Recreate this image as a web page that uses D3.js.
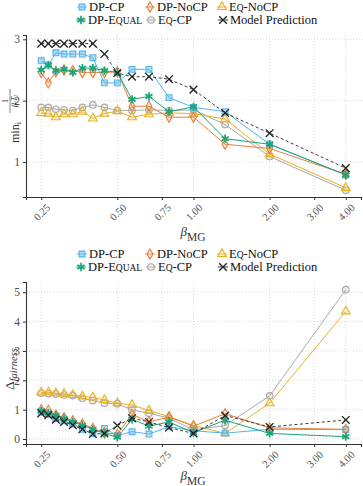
<!DOCTYPE html>
<html><head><meta charset="utf-8">
<script src="https://cdn.jsdelivr.net/npm/d3@7"></script>
<style>
body{margin:0;background:#fff;}
</style></head>
<body><svg id="c" width="363" height="486"></svg>
<script>
// ---- data ----
const betas = [0.25, 0.2667, 0.2857, 0.3077, 0.3333, 0.3636, 0.4, 0.4444, 0.5, 0.5714, 0.6667, 0.8, 1, 1.3333, 2, 4];
const xTicks = [0.25, 0.5, 0.75, 1, 2, 3, 4];
const xTickLabels = ["0.25", "0.50", "0.75", "1.00", "2.00", "3.00", "4.00"];
const seriesNames = ["DP-CP", "DP-NoCP", "Eq-NoCP", "DP-Equal", "Eq-CP", "Model Prediction"];

const topDPCP     = [2.65,2.58,2.78,2.76,2.76,2.76,2.70,2.29,2.29,2.51,2.51,2.05,1.89,1.82,1.29,0.79];
const topDPNoCP   = [2.46,2.29,2.47,2.50,2.49,2.46,2.46,2.46,2.47,1.91,1.91,1.73,1.73,1.29,1.22,0.80];
const topEqNoCP   = [1.80,1.79,1.73,1.78,1.78,1.82,1.71,1.79,1.83,1.73,1.78,1.80,1.79,1.70,1.13,0.58];
const topDPEqual  = [2.50,2.58,2.49,2.51,2.46,2.53,2.53,2.49,2.46,2.02,2.07,1.82,1.90,1.38,1.29,0.79];
const topEqCP     = [1.89,1.89,1.86,1.85,1.84,1.89,1.93,1.89,1.84,1.84,1.85,1.84,1.85,1.61,1.09,0.54];
const topModel    = [2.93,2.93,2.93,2.93,2.93,2.93,2.93,2.76,2.45,2.39,2.39,2.35,2.18,1.80,1.47,0.90];
const topYTicks = [1, 2, 3];

const botDPCP     = [0.92,0.84,0.70,0.62,0.51,0.33,0.19,0.36,0.12,0.25,0.17,0.42,0.28,0.20,0.33,0.32];
const botDPNoCP   = [1.00,0.98,0.81,0.73,0.62,0.51,0.36,0.21,0.16,0.84,0.58,0.75,0.44,0.86,0.38,0.33];
const botEqNoCP   = [1.59,1.59,1.56,1.54,1.50,1.45,1.42,1.33,1.22,1.16,0.97,0.76,0.46,0.19,1.22,4.35];
const botDPEqual  = [0.96,0.89,0.81,0.70,0.58,0.47,0.33,0.19,0.06,0.67,0.44,0.58,0.22,0.64,0.19,0.08];
const botEqCP     = [1.56,1.54,1.53,1.50,1.48,1.39,1.31,1.22,1.20,0.99,0.88,0.71,0.31,0.46,1.47,5.09];
const botModel    = [0.87,0.81,0.66,0.58,0.47,0.33,0.17,0.19,0.46,0.71,0.58,0.39,0.19,0.80,0.41,0.65];
const botYTicks = [0, 1, 2, 3, 4, 5];

// ---- styles ----
const FONT = "'Liberation Serif','DejaVu Serif',serif";
const styles = {
  "DP-CP":            {color:"#56B4E9", sym:"square"},
  "DP-NoCP":          {color:"#E5803A", sym:"diamond"},
  "Eq-NoCP":          {color:"#E9B124", sym:"triangle"},
  "DP-Equal":         {color:"#18A57A", sym:"asterisk"},
  "Eq-CP":            {color:"#A9A9A9", sym:"circle"},
  "Model Prediction": {color:"#222222", sym:"times", dashed:true}
};
const drawOrder = ["Eq-CP","Eq-NoCP","DP-CP","DP-NoCP","DP-Equal","Model Prediction"];

const svg = d3.select("#c").attr("font-family", FONT);
const x = d3.scaleLog().base(2).domain([0.25*Math.pow(2,-0.2), 4*Math.pow(2,0.2)]).range([26, 361]);

function symbolPath(kind){
  const S = {
    square: d3.symbol().type(d3.symbolSquare).size(34),
    diamond: d3.symbol().type(d3.symbolDiamond).size(30),
    triangle: d3.symbol().type(d3.symbolTriangle).size(34),
    asterisk: d3.symbol().type(d3.symbolAsterisk || d3.symbolStar).size(48),
    circle: d3.symbol().type(d3.symbolCircle).size(34),
    times: d3.symbol().type(d3.symbolTimes || d3.symbolX || d3.symbolCross).size(40)
  };
  return S[kind]();
}
function drawMarker(g, name, cx, cy){
  const st = styles[name];
  const p = g.append("path").attr("d", symbolPath(st.sym)).attr("transform", `translate(${cx},${cy})`)
    .attr("stroke", st.color).attr("stroke-width", 1.1);
  if (st.sym === "square") {
    p.attr("fill", st.color).attr("fill-opacity", 0.45);
  } else if (st.sym === "asterisk") {
    p.attr("fill", "none").attr("stroke-width", 1.7);
  } else if (st.sym === "times") {
    p.attr("fill", "none").attr("stroke-width", 1.3);
  } else {
    p.attr("fill", st.color).attr("fill-opacity", 0.15);
  }
}

function legend(y0){
  const g = svg.append("g");
  const items = [
    ["DP-CP", 82, y0], ["DP-NoCP", 150, y0], ["Eq-NoCP", 222, y0],
    ["DP-Equal", 81, y0+13], ["Eq-CP", 151, y0+13], ["Model Prediction", 223, y0+13]
  ];
  items.forEach(([name, lx, ly]) => {
    const st = styles[name];
    g.append("line").attr("x1", lx-5).attr("x2", lx+5).attr("y1", ly).attr("y2", ly)
      .attr("stroke", st.color).attr("stroke-width", 0.9);
    drawMarker(g, name, lx, ly);
    const t = g.append("text").attr("x", lx+7).attr("y", ly+4).attr("font-size", 12.5).attr("fill", "#111");
    if (name === "DP-Equal") {
      t.append("tspan").text("DP-E");
      t.append("tspan").attr("font-size", 9.5).text("QUAL");
    } else if (name.startsWith("Eq")) {
      t.append("tspan").text("E");
      t.append("tspan").attr("font-size", 9.5).text("Q");
      t.append("tspan").text(name.slice(2));
    } else {
      t.text(name);
    }
  });
}

function panel(top, bottom, ydom, yTicks, data, labelFn, xTitleY){
  const y = d3.scaleLinear().domain(ydom).range([bottom, top]);
  const g = svg.append("g");
  // grid
  g.selectAll(".gx").data(xTicks).enter().append("line")
    .attr("x1", d=>x(d)).attr("x2", d=>x(d)).attr("y1", top).attr("y2", bottom)
    .attr("stroke", "#cfcfcf").attr("stroke-width", 0.8).attr("stroke-dasharray", "1,2");
  g.selectAll(".gy").data(yTicks).enter().append("line")
    .attr("x1", 26).attr("x2", 363).attr("y1", d=>y(d)).attr("y2", d=>y(d))
    .attr("stroke", "#cfcfcf").attr("stroke-width", 0.8).attr("stroke-dasharray", "1,2");
  // axes
  const ya = g.append("g").attr("transform", "translate(26,0)")
    .call(d3.axisLeft(y).tickValues(yTicks).tickSize(3).tickPadding(3).tickFormat(d3.format("d")));
  ya.attr("font-family", FONT);
  ya.select(".domain").attr("stroke", "#333").attr("stroke-width", 1.1);
  ya.selectAll(".tick line").attr("stroke", "#333");
  ya.selectAll(".tick text").attr("font-size", 11.5).attr("fill", "#4d4d4d");
  const xa = g.append("g").attr("transform", `translate(0,${bottom})`)
    .call(d3.axisBottom(x).tickValues(xTicks).tickSize(3).tickFormat((d,i)=>xTickLabels[i]));
  xa.attr("font-family", FONT);
  xa.select(".domain").attr("stroke", "#333").attr("stroke-width", 1.1);
  xa.selectAll(".tick line").attr("stroke", "#333");
  xa.selectAll(".tick text").attr("font-size", 10.5).attr("fill", "#4d4d4d")
    .attr("text-anchor", "end").attr("dy", 0)
    .attr("transform", "translate(5,7) rotate(-45)");
  // x title
  const xt = svg.append("text").attr("x", 193).attr("y", xTitleY).attr("text-anchor", "middle")
    .attr("fill", "#333").attr("font-size", 13);
  xt.append("tspan").attr("font-style", "italic").attr("dy", -2).text("β");
  xt.append("tspan").attr("font-size", 11.5).attr("dy", 5).text("MG");
  labelFn();
  // series
  const line = d3.line().x((d,i)=>x(betas[i])).y(d=>y(d));
  drawOrder.forEach(name => {
    const st = styles[name];
    const vals = data[name];
    g.append("path").attr("d", line(vals)).attr("fill", "none").attr("stroke", st.color)
      .attr("stroke-width", st.dashed ? 0.9 : 1.0).attr("stroke-dasharray", st.dashed ? "3,2.5" : null);
    vals.forEach((v,i) => drawMarker(g, name, x(betas[i]), y(v)));
  });
}

legend(7);
panel(35, 197, [0.43, 3.07], topYTicks, {
  "DP-CP": topDPCP, "DP-NoCP": topDPNoCP, "Eq-NoCP": topEqNoCP,
  "DP-Equal": topDPEqual, "Eq-CP": topEqCP, "Model Prediction": topModel
}, () => {
  const g = svg.append("g").attr("transform", "rotate(-90)").attr("fill", "#333");
  const t = g.append("text").attr("x", -143).attr("y", 18.5).attr("font-size", 12);
  t.append("tspan").text("min");
  t.append("tspan").attr("font-size", 8).attr("dy", 2).text("i");
  g.append("line").attr("x1", -113).attr("x2", -89).attr("y1", 10).attr("y2", 10).attr("stroke", "#333").attr("stroke-width", 0.6);
  g.append("text").attr("x", -101).attr("y", 8.3).attr("text-anchor", "middle").attr("font-size", 8).text("1");
  const d = g.append("text").attr("x", -101).attr("y", 16.5).attr("text-anchor", "middle").attr("font-size", 8).attr("font-style", "italic");
  d.append("tspan").text("β");
  d.append("tspan").attr("font-size", 6).attr("dy", 1.5).text("i");
  d.append("tspan").attr("dy", -1.5).text("T");
  d.append("tspan").attr("font-size", 6).attr("dy", 1.5).text("i");
}, 238);

legend(254);
panel(282, 444, [-0.17, 5.35], botYTicks, {
  "DP-CP": botDPCP, "DP-NoCP": botDPNoCP, "Eq-NoCP": botEqNoCP,
  "DP-Equal": botDPEqual, "Eq-CP": botEqCP, "Model Prediction": botModel
}, () => {
  const g = svg.append("g").attr("transform", "rotate(-90)").attr("fill", "#333");
  const t = g.append("text").attr("x", -390).attr("y", 13.5).attr("font-size", 13.5);
  t.append("tspan").text("Δ");
  t.append("tspan").attr("font-size", 10.5).attr("font-style", "italic").attr("dy", 3).text("fairness");
}, 482);

svg.selectAll("text").attr("font-family", FONT);
</script>
</body></html>
